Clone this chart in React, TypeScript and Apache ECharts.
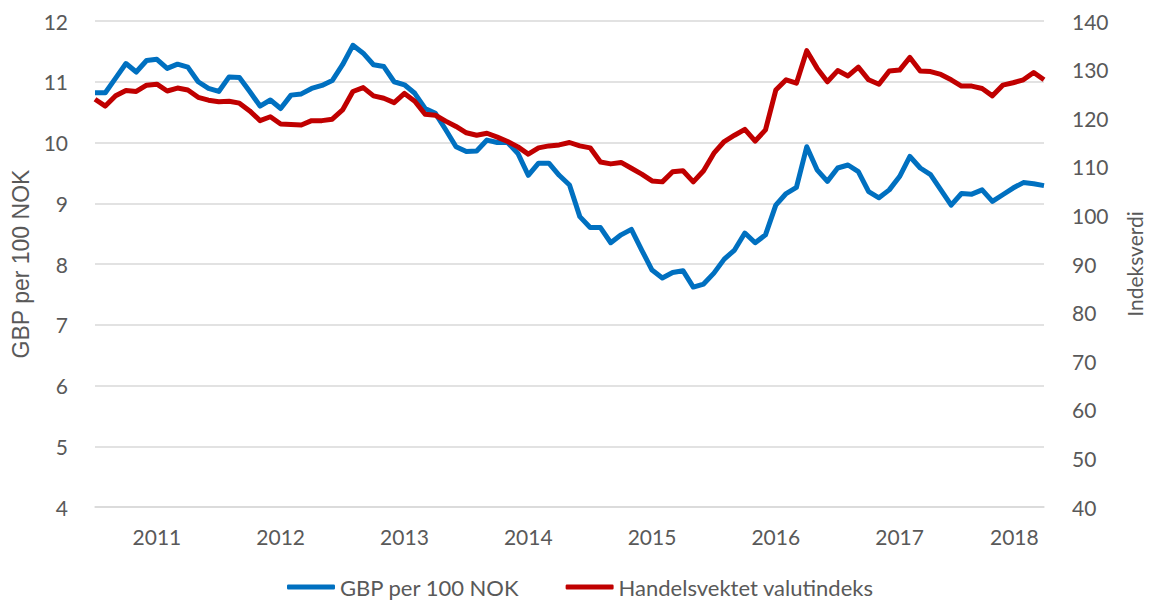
import React, { useEffect, useRef } from "react";
import * as echarts from "echarts";

// Monthly categories, July 2010 – March 2018
const months: string[] = [];
for (let y = 2010, m = 7; months.length < 93; ) {
  months.push(`${y}-${String(m).padStart(2, "0")}`);
  m++;
  if (m > 12) { m = 1; y++; }
}

const gbpPer100Nok = [
  10.82, 10.82, 11.06, 11.30, 11.16, 11.35, 11.37, 11.22, 11.29, 11.24,
  11.00, 10.89, 10.84, 11.08, 11.07, 10.84, 10.60, 10.70, 10.56, 10.78,
  10.80, 10.89, 10.94, 11.02, 11.28, 11.60, 11.47, 11.28, 11.25, 11.00,
  10.95, 10.81, 10.56, 10.48, 10.21, 9.93, 9.85, 9.86, 10.04, 10.00,
  10.00, 9.82, 9.46, 9.66, 9.66, 9.46, 9.30, 8.78, 8.60, 8.60,
  8.35, 8.48, 8.57, 8.23, 7.90, 7.77, 7.86, 7.89, 7.62, 7.67,
  7.85, 8.08, 8.23, 8.51, 8.35, 8.48, 8.97, 9.16, 9.26, 9.93,
  9.55, 9.36, 9.58, 9.63, 9.52, 9.19, 9.09, 9.22, 9.44, 9.77,
  9.58, 9.47, 9.22, 8.97, 9.16, 9.15, 9.22, 9.03, 9.14, 9.25,
  9.34, 9.32, 9.29,
];

const handelsvektet = [
  123.9, 122.5, 124.6, 125.7, 125.5, 126.8, 127.0, 125.6, 126.2, 125.8,
  124.3, 123.7, 123.4, 123.5, 123.1, 121.5, 119.5, 120.3, 118.8, 118.7,
  118.6, 119.5, 119.5, 119.8, 121.7, 125.5, 126.3, 124.6, 124.1, 123.2,
  125.1, 123.5, 120.8, 120.6, 119.4, 118.3, 117.0, 116.5, 116.9, 116.1,
  115.2, 114.1, 112.6, 113.9, 114.3, 114.5, 115.0, 114.3, 113.9, 111.0,
  110.6, 110.9, 109.7, 108.5, 107.1, 106.9, 109.0, 109.2, 106.9, 109.2,
  112.8, 115.2, 116.5, 117.7, 115.3, 117.6, 125.8, 127.9, 127.2, 133.9,
  130.3, 127.5, 129.8, 128.7, 130.5, 127.9, 127.0, 129.7, 129.9, 132.5,
  129.7, 129.6, 129.0, 127.9, 126.6, 126.6, 126.1, 124.6, 126.8, 127.3,
  127.9, 129.4, 127.9,
];

const seriesNames = ["GBP per 100 NOK", "Handelsvektet valutindeks"];
const leftAxisName = "GBP per 100 NOK";
const rightAxisName = "Indeksverdi";

const BLUE = "#0070C0";
const RED = "#C00000";
const TEXT = "#595959";
const GRID = "#D9D9D9";
const FONT = "Lato, 'Noto Sans', sans-serif";

export default function App() {
  const ref = useRef<HTMLDivElement>(null);

  useEffect(() => {
    if (!ref.current) return;
    const chart = echarts.init(ref.current, null, { renderer: "svg" });
    chart.setOption({
      animation: false,
      backgroundColor: "#ffffff",
      textStyle: { fontFamily: FONT, color: TEXT },
      grid: {
        left: 95,
        right: 106,
        top: 21,
        bottom: 100,
        containLabel: false,
        outerBoundsMode: "none",
      },
      legend: {
        bottom: 4,
        left: 282,
        itemWidth: 48,
        itemHeight: 5,
        itemGap: 46,
        icon: "roundRect",
        textStyle: { fontFamily: FONT, fontSize: 22, color: TEXT },
        data: seriesNames,
      },
      xAxis: {
        type: "category",
        data: months,
        boundaryGap: false,
        axisLine: { show: true, lineStyle: { color: GRID, width: 1.5 } },
        axisTick: { show: false },
        splitLine: { show: false },
        axisLabel: {
          interval: (_i: number, v: string) => v.endsWith("-01"),
          formatter: (v: string) =>
            v.startsWith("2018") ? `{last|${v.slice(0, 4)}}` : v.slice(0, 4),
          fontFamily: FONT,
          fontSize: 21,
          color: TEXT,
          margin: 19,
          rich: { last: { fontFamily: FONT, fontSize: 21, color: TEXT, padding: [0, 18, 0, 0] } },
        },
      },
      yAxis: [
        {
          type: "value",
          min: 4,
          max: 12,
          interval: 1,
          name: leftAxisName,
          nameLocation: "middle",
          nameRotate: 90,
          nameGap: 62,
          nameTextStyle: { fontFamily: "'Liberation Sans', Arial, sans-serif", fontSize: 23, color: TEXT },
          axisLine: { show: false },
          axisTick: { show: false },
          axisLabel: { fontFamily: FONT, fontSize: 21, color: TEXT, margin: 27 },
          splitLine: { show: true, lineStyle: { color: GRID, width: 1.5 } },
        },
        {
          type: "value",
          min: 40,
          max: 140,
          interval: 10,
          name: rightAxisName,
          nameLocation: "middle",
          nameRotate: 90,
          nameGap: 80,
          nameTextStyle: { fontFamily: FONT, fontSize: 21, color: TEXT },
          axisLine: { show: false },
          axisTick: { show: false },
          axisLabel: { fontFamily: FONT, fontSize: 21, color: TEXT, margin: 28, align: "left" },
          splitLine: { show: false },
        },
      ],
      series: [
        {
          name: seriesNames[0],
          type: "line",
          data: gbpPer100Nok,
          yAxisIndex: 0,
          symbol: "none",
          color: BLUE,
          lineStyle: { color: BLUE, width: 5, join: "round" },
        },
        {
          name: seriesNames[1],
          type: "line",
          data: handelsvektet,
          yAxisIndex: 1,
          symbol: "none",
          color: RED,
          lineStyle: { color: RED, width: 5, join: "round" },
        },
      ],
    });
    return () => chart.dispose();
  }, []);

  return (
    <div
      ref={ref}
      style={{ position: "fixed", left: 0, top: 0, width: 1150, height: 607 }}
    />
  );
}
